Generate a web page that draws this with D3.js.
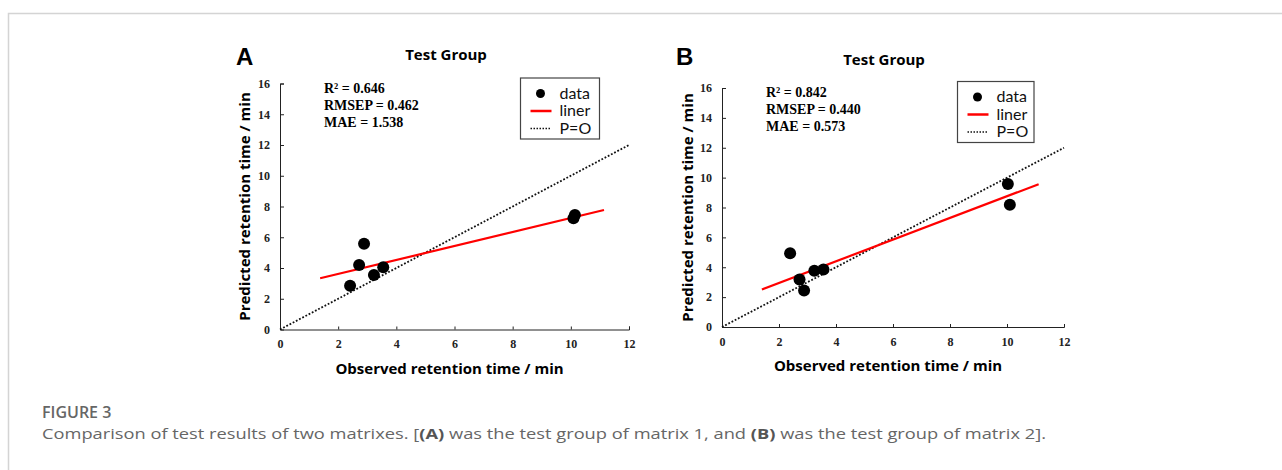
<!DOCTYPE html>
<html>
<head>
<meta charset="utf-8">
<script src="https://cdn.jsdelivr.net/npm/d3@7"></script>
<style>
  html, body { margin: 0; padding: 0; background: #fff; }
  svg { display: block; }
</style>
</head>
<body>
<div id="page"></div>
<script>
// observed vs predicted retention times
const observedA = [2.41, 2.72, 2.89, 3.23, 3.55, 10.09, 10.14];
const predictedA = [2.84, 4.2, 5.58, 3.55, 4.05, 7.23, 7.45];
const fitA = [[1.38, 3.33], [11.14, 7.77]];
const statsA = ['R² = 0.646', 'RMSEP = 0.462', 'MAE = 1.538'];

const observedB = [2.39, 2.72, 2.88, 3.24, 3.56, 10.03, 10.1];
const predictedB = [4.93, 3.18, 2.44, 3.76, 3.85, 9.58, 8.19];
const fitB = [[1.40, 2.51], [11.11, 9.56]];
const statsB = ['R² = 0.842', 'RMSEP = 0.440', 'MAE = 0.573'];

const xTicks = [0, 2, 4, 6, 8, 10, 12];
const yTicks = [0, 2, 4, 6, 8, 10, 12, 14, 16];
const identity = [[0, 0], [12, 12]];
const legendLabels = ['data', 'liner', 'P=O'];

const width = 1282;
const height = 470;

const svg = d3.select('#page')
              .append('svg')
              .attr('width', width)
              .attr('height', height);

// card border
svg.append('path')
   .attr('d', `M8.5,${height} V13.5 H${width}`)
   .attr('fill', 'none')
   .attr('stroke', '#d4d4d4')
   .attr('stroke-width', 1.5);

const sans = '"Open Sans", sans-serif';
const serif = '"Liberation Serif", "Times New Roman", serif';

function drawPanel(p) {
    const x = d3.scaleLinear().domain([0, 12]).range([p.x0, p.x1]);
    const y = d3.scaleLinear().domain([0, 16]).range([p.y0, p.y1]);

    const g = svg.append('g');

    g.append('text')
     .attr('x', p.letterX)
     .attr('y', 65)
     .style('font-family', '"Liberation Sans", Arial, sans-serif')
     .style('font-weight', 'bold')
     .style('font-size', '24px')
     .text(p.letter);

    g.append('text')
     .attr('x', p.titleX)
     .attr('y', p.titleY)
     .attr('text-anchor', 'middle')
     .style('font-family', sans)
     .style('font-weight', 'bold')
     .style('font-size', '15px')
     .text('Test Group');

    const xAxis = d3.axisBottom(x).tickValues(xTicks).tickSize(-3).tickPadding(10);
    const yAxis = d3.axisLeft(y).tickValues(yTicks).tickSize(-4).tickPadding(10);

    const gx = g.append('g')
                .attr('transform', `translate(0,${p.y0})`)
                .call(xAxis);
    const gy = g.append('g')
                .attr('transform', `translate(${p.x0},0)`)
                .call(yAxis);

    [gx, gy].forEach(a => {
        a.select('.domain').attr('stroke', '#222').attr('stroke-width', 1);
        a.selectAll('.tick line').attr('stroke', '#222');
        a.selectAll('.tick text')
         .attr('fill', '#222')
         .style('font-family', serif)
         .style('font-weight', 'bold')
         .style('font-size', '12px');
    });
    gx.selectAll('.tick').filter(d => d === 0).select('line').remove();
    gy.selectAll('.tick').filter(d => d === 0).select('line').remove();

    g.append('text')
     .attr('x', (p.x0 + p.x1) / 2 - 5)
     .attr('y', p.y0 + 44)
     .attr('text-anchor', 'middle')
     .style('font-family', sans)
     .style('font-weight', 'bold')
     .style('font-size', '15px')
     .text('Observed retention time / min');

    g.append('text')
     .attr('transform', `translate(${p.yLabelX},${(p.y0 + p.y1) / 2}) rotate(-90)`)
     .attr('text-anchor', 'middle')
     .style('font-family', sans)
     .style('font-weight', 'bold')
     .style('font-size', '15px')
     .text('Predicted retention time / min');

    // P=O line
    g.append('path')
     .datum(identity)
     .attr('d', d3.line().x(d => x(d[0])).y(d => y(d[1])))
     .attr('fill', 'none')
     .attr('stroke', '#111')
     .attr('stroke-width', 1.8)
     .attr('stroke-dasharray', '1.8,1.8');

    g.append('path')
     .datum(p.fit)
     .attr('d', d3.line().x(d => x(d[0])).y(d => y(d[1])))
     .attr('fill', 'none')
     .attr('stroke', '#ff0000')
     .attr('stroke-width', 2.2);

    g.selectAll('circle.pt')
     .data(p.obs.map((o, i) => [o, p.pred[i]]))
     .enter()
     .append('circle')
     .attr('class', 'pt')
     .attr('cx', d => x(d[0]))
     .attr('cy', d => y(d[1]))
     .attr('r', 6)
     .attr('fill', '#000');

    g.selectAll('text.stat')
     .data(p.stats)
     .enter()
     .append('text')
     .attr('class', 'stat')
     .attr('x', p.statX)
     .attr('y', (d, i) => p.statY + i * 16.8)
     .style('font-family', serif)
     .style('font-weight', 'bold')
     .style('font-size', '14px')
     .text(d => d);

    // legend
    const lg = g.append('g').attr('transform', `translate(${p.legX},${p.legY})`);
    lg.append('rect')
      .attr('width', p.legW)
      .attr('height', 61)
      .attr('fill', '#fff')
      .attr('stroke', '#444')
      .attr('stroke-width', 1.2);

    const item = lg.selectAll('g.item')
                   .data(legendLabels)
                   .enter()
                   .append('g')
                   .attr('class', 'item')
                   .attr('transform', (d, i) => `translate(0,${15.5 + i * 17.5})`);

    item.filter((d, i) => i === 0)
        .append('circle')
        .attr('cx', 20)
        .attr('cy', 0)
        .attr('r', 4.5)
        .attr('fill', '#000');
    item.filter((d, i) => i === 1)
        .append('line')
        .attr('x1', 10).attr('x2', 31)
        .attr('stroke', '#ff0000')
        .attr('stroke-width', 2.5);
    item.filter((d, i) => i === 2)
        .append('line')
        .attr('x1', 10).attr('x2', 31)
        .attr('stroke', '#111')
        .attr('stroke-width', 1.5)
        .attr('stroke-dasharray', '1.5,1.5');

    item.append('text')
        .attr('x', 39)
        .attr('y', 5)
        .style('font-family', 'Lato, sans-serif')
        .style('font-size', '16px')
        .attr('fill', '#111')
        .text(d => d);
}

drawPanel({
    letter: 'A', letterX: 236, titleX: 446, titleY: 60,
    x0: 280, x1: 629, y0: 329.5, y1: 83.5,
    yLabelX: 250,
    obs: observedA, pred: predictedA, fit: fitA, stats: statsA,
    statX: 324, statY: 93,
    legX: 520.5, legY: 78, legW: 79
});

drawPanel({
    letter: 'B', letterX: 676, titleX: 884, titleY: 65,
    x0: 722, x1: 1064, y0: 327, y1: 88,
    yLabelX: 693,
    obs: observedB, pred: predictedB, fit: fitB, stats: statsB,
    statX: 766, statY: 97,
    legX: 957.5, legY: 81.5, legW: 76.5
});

// caption
svg.append('text')
   .attr('x', 42)
   .attr('y', 418)
   .attr('fill', '#666')
   .style('font-family', sans)
   .style('font-weight', 600)
   .style('font-size', '16px')
   .text('FIGURE 3');

const cap = svg.append('text')
               .attr('x', 42)
               .attr('y', 439)
               .attr('fill', '#666')
               .attr('textLength', 1004)
               .attr('lengthAdjust', 'spacingAndGlyphs')
               .style('font-family', sans)
               .style('font-size', '15px');
const capParts = [
    ['Comparison of test results of two matrixes. [', false],
    ['(A)', true],
    [' was the test group of matrix 1, and ', false],
    ['(B)', true],
    [' was the test group of matrix 2].', false]
];
cap.selectAll('tspan')
   .data(capParts)
   .enter()
   .append('tspan')
   .style('font-weight', d => d[1] ? 'bold' : 'normal')
   .attr('fill', d => d[1] ? '#555' : '#666')
   .text(d => d[0]);
</script>
</body>
</html>
